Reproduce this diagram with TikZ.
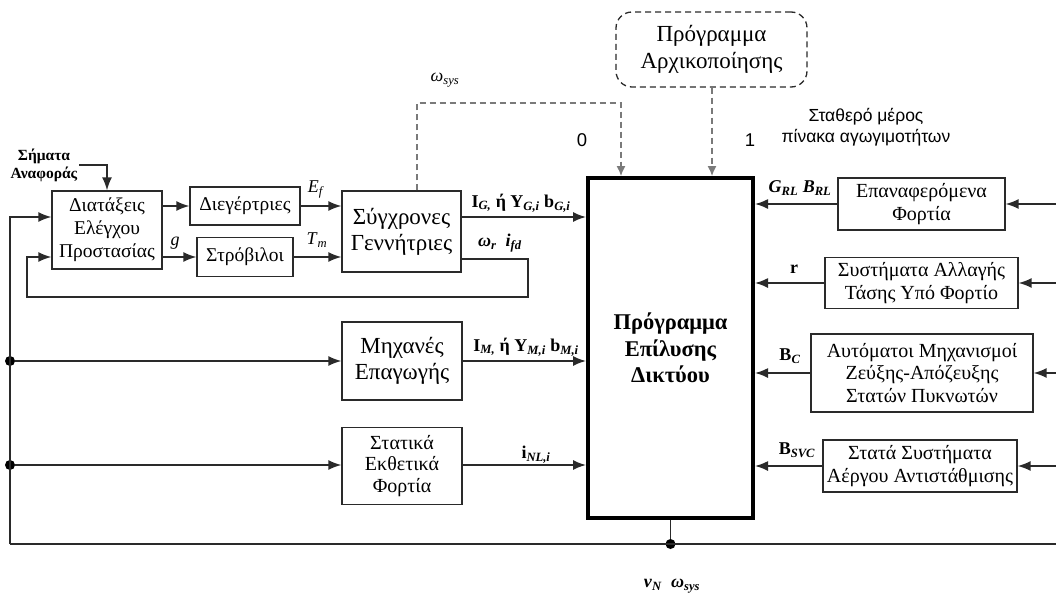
\documentclass[tikz,border=0pt]{standalone}
\usepackage{fontspec}
\setmainfont{Liberation Serif}
\setsansfont{Liberation Sans}
\usetikzlibrary{arrows.meta,calc}
\definecolor{lineg}{HTML}{2A2A2A}
\definecolor{dashg}{HTML}{7A7A7A}
\tikzset{
  blk/.style={draw=lineg,line width=1.2pt,rectangle,align=center,inner sep=1pt,font=\fontsize{19.5}{23}\selectfont},
  bigblk/.style={blk,font=\fontsize{23}{26}\selectfont},
  rblk/.style={blk,font=\fontsize{20}{22.5}\selectfont},
  mainblk/.style={draw=black,line width=4pt,rectangle,align=center,font=\bfseries\fontsize{22.5}{26.5}\selectfont},
  conn/.style={draw=lineg,line width=1.6pt},
  arr/.style={conn,-{Latex[length=13pt,width=10pt]}},
  darr/.style={draw=dashg,line width=1.3pt,dash pattern=on 6pt off 4pt,-{Latex[length=10pt,width=9pt]}},
  lbl/.style={inner sep=0pt,font=\fontsize{18}{20}\selectfont},
  blbl/.style={inner sep=0pt,font=\bfseries\fontsize{18}{20}\selectfont},
  dotn/.style={circle,fill=black,inner sep=0pt,minimum size=10pt},
}
\begin{document}
\begin{tikzpicture}[x=1pt,y=-1pt]
\useasboundingbox (0,0) rectangle (1056,594);
% blocks
\node[blk,minimum width=110pt,minimum height=78pt] (ctrl) at (107,230) {Διατάξεις\\Ελέγχου\\Προστασίας};
\node[blk,minimum width=110pt,minimum height=38pt] (exc) at (245,206) {Διεγέρτριες};
\node[blk,minimum width=96pt,minimum height=39pt] (turb) at (245,257) {Στρόβιλοι};
\node[bigblk,minimum width=119pt,minimum height=81pt] (gen) at (401.5,231.5) {Σύγχρονες\\Γεννήτριες};
\node[bigblk,minimum width=120pt,minimum height=78pt] (ind) at (402,361) {Μηχανές\\Επαγωγής};
\node[blk,minimum width=120pt,minimum height=77pt,font=\fontsize{20}{21.5}\selectfont] (stat) at (402,466) {Στατικά\\Εκθετικά\\Φορτία};
\node[mainblk,minimum width=165pt,minimum height=340pt] (main) at (670.5,348) {Πρόγραμμα\\Επίλυσης\\Δικτύου};
\node[draw=lineg,line width=1.3pt,dash pattern=on 6pt off 4pt,rounded corners=16pt,align=center,
      minimum width=191pt,minimum height=75pt,font=\fontsize{23}{27}\selectfont] (init) at (711.5,49.5) {Πρόγραμμα\\Αρχικοποίησης};
\node[rblk,minimum width=167pt,minimum height=52pt] (rl) at (921.5,204) {Επαναφερόμενα\\Φορτία};
\node[rblk,minimum width=193pt,minimum height=51pt] (tap) at (921.5,283) {Συστήματα Αλλαγής\\Τάσης Υπό Φορτίο};
\node[rblk,minimum width=222pt,minimum height=78pt] (cap) at (922,373) {Αυτόματοι Μηχανισμοί\\Ζεύξης-Απόζευξης\\Στατών Πυκνωτών};
\node[rblk,minimum width=194pt,minimum height=52pt] (svc) at (920,466) {Στατά Συστήματα\\Αέργου Αντιστάθμισης};
% coordinates
\coordinate (lt) at (10,544);
\coordinate (rt) at (1056,544);
\node[dotn] (d1) at (10,361) {};
\node[dotn] (d2) at (10,465) {};
\node[dotn] (d3) at (main.south |- lt) {};
\coordinate (refin) at (79,165);
\coordinate (refc) at (107,165);
\coordinate (fb1) at (528,259);
\coordinate (fb2) at (528,297);
\coordinate (fb3) at (27,297);
\coordinate (fb4) at (27,257);
\coordinate (ws1) at (417,103);
\coordinate (ws2) at (621,103);
\coordinate (ip) at (712,0);
\coordinate (lup) at (10,217);
\coordinate (r1) at (1056,204);
\coordinate (r2) at (1056,283);
\coordinate (r3) at (1056,373);
\coordinate (r4) at (1056,466);
% left side connectors
\draw[arr] (refin) -- (refc) -- (refc |- ctrl.north);
\draw[arr] (ctrl.east |- exc.west) -- (exc.west);
\draw[arr] (ctrl.east |- turb.west) -- (turb.west);
\draw[arr] (exc.east) -- (exc.east -| gen.west);
\draw[arr] (turb.east) -- (turb.east -| gen.west);
\draw[arr] ([yshift=14.5pt]gen.east) -- ([yshift=14.5pt]gen.east -| main.west);
\draw[arr] ([yshift=-27.5pt]gen.east) -- (fb1) -- (fb2) -- (fb3) -- (fb4) -- ([yshift=-27pt]ctrl.west);
\draw[arr] (lt) -- (lup) -- ([yshift=13pt]ctrl.west);
\draw[arr] (d1) -- (ind.west);
\draw[arr] (d2) -- (d2 -| stat.west);
\draw[arr] (ind.east) -- (ind.east -| main.west);
\draw[arr] (stat.east |- d2) -- (d2 -| main.west);
\draw[conn] (lt) -- (rt);
\draw[conn] (main.south) -- (d3);
% right side
\draw[arr] (r1) -- (rl.east);
\draw[arr] (r2) -- (tap.east);
\draw[arr] (r3) -- (cap.east);
\draw[arr] (r4) -- (svc.east);
\draw[arr] (rl.west) -- (rl.west -| main.east);
\draw[arr] (tap.west) -- (tap.west -| main.east);
\draw[arr] (cap.west) -- (cap.west -| main.east);
\draw[arr] (svc.west) -- (svc.west -| main.east);
% dashed
\draw[darr] (gen.north -| ws1) -- (ws1) -- (ws2) -- (ws2 |- main.north);
\draw[darr] (init.south -| ip) -- (ip |- main.north);
% labels
\node[lbl,align=center,font=\bfseries\fontsize{15.5}{18}\selectfont] (lref) at (44,165) {Σήματα\\Αναφοράς};
\node[lbl] (lef) at (316,189) {\textit{E}\textsubscript{\textit{f}}};
\node[lbl] (ltm) at (317,240) {\textit{T}\textsubscript{\textit{m}}};
\node[lbl] (lg) at (175,243) {\textit{g}};
\node[blbl] (lig) at (521,203) {I\textsubscript{\textit{G,}} ή Y\textsubscript{\textit{G,i}} b\textsubscript{\textit{G,i}}};
\node[blbl] (lwr) at (500,243) {\textit{ω}\textsubscript{\textit{r}}\enspace\textit{i}\textsubscript{\textit{fd}}};
\node[lbl] (lws) at (445,80) {\textit{ω}\textsubscript{\textit{sys}}};
\node[lbl,font=\sffamily\fontsize{18.5}{20}\selectfont] (l0) at (582,140) {0};
\node[lbl,font=\sffamily\fontsize{18.5}{20}\selectfont] (l1) at (750,140) {1};
\node[lbl,align=center,font=\sffamily\fontsize{17.5}{21.5}\selectfont] (lfix) at (866,127) {Σταθερό μέρος\\πίνακα αγωγιμοτήτων};
\node[blbl] (lim) at (526,347) {I\textsubscript{\textit{M,}} ή Y\textsubscript{\textit{M,i}} b\textsubscript{\textit{M,i}}};
\node[blbl] (lnl) at (536,455) {i\textsubscript{\textit{NL,i}}};
\node[blbl] (lgrl) at (800,188) {\textit{G}\textsubscript{\textit{RL}} \textit{B}\textsubscript{\textit{RL}}};
\node[blbl] (lr) at (794,269) {r};
\node[blbl] (lbc) at (790,356) {B\textsubscript{\textit{C}}};
\node[blbl] (lbsvc) at (797,450) {B\textsubscript{\textit{SVC}}};
\node[blbl] (lvn) at (672,586) {\textit{v}\textsubscript{\textit{N}}\enspace\textit{ω}\textsubscript{\textit{sys}}};
\end{tikzpicture}
\end{document}
